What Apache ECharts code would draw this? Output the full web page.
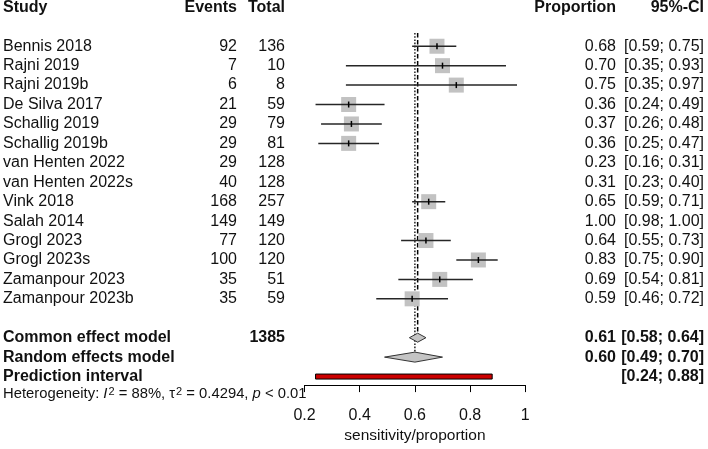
<!DOCTYPE html>
<html><head><meta charset="utf-8">
<script src="https://cdn.jsdelivr.net/npm/echarts@6/dist/echarts.min.js"></script>
<style>html,body{margin:0;padding:0;background:#fff}#c{width:708px;height:449px}</style>
</head><body><div id="c"></div>
<script>
// ---------- data ----------
const studies = ["Bennis 2018","Rajni 2019","Rajni 2019b","De Silva 2017","Schallig 2019","Schallig 2019b",
  "van Henten 2022","van Henten 2022s","Vink 2018","Salah 2014","Grogl 2023","Grogl 2023s","Zamanpour 2023","Zamanpour 2023b"];
const events = [92,7,6,21,29,29,29,40,168,149,77,100,35,35];
const totals = [136,10,8,59,79,81,128,128,257,149,120,120,51,59];
const proportion = [0.68,0.70,0.75,0.36,0.37,0.36,0.23,0.31,0.65,1.00,0.64,0.83,0.69,0.59];
const ciLower = [0.59,0.35,0.35,0.24,0.26,0.25,0.16,0.23,0.59,0.98,0.55,0.75,0.54,0.46];
const ciUpper = [0.75,0.93,0.97,0.49,0.48,0.47,0.31,0.40,0.71,1.00,0.73,0.90,0.81,0.72];
const notPlotted = ["van Henten 2022","van Henten 2022s","Salah 2014"];
const commonEffect = [0.61,0.58,0.64];
const randomEffects = [0.60,0.49,0.70];
const predictionInterval = [0.24,0.88];
const totalN = 1385;
const heterogeneity = {I2:"88%", tau2:"0.4294", p:"< 0.01"};
const xTicks = [0.2,0.4,0.6,0.8,1];
const xTitle = "sensitivity/proportion";
const headers = ["Study","Events","Total","Proportion","95%-CI"];

// ---------- layout ----------
const FONT = "'Liberation Sans', Arial, Helvetica, sans-serif";
const COL = {study:3, events:237, total:285, prop:616, ci:704};
const ROW_HEADER = -0.97, ROW_COMMON = 16, ROW_RANDOM = 17, ROW_PRED = 18, ROW_HET = 18.9;
const f2 = v => v.toFixed(2);
const ciTxt = (a,b) => "[" + f2(a) + "; " + f2(b) + "]";

const cells = [];
function cell(row, x, align, text, bold, size, rich){ cells.push({row,x,align,text,bold,size,rich}); }
cell(ROW_HEADER, COL.study, 'left', headers[0], true, 16);
cell(ROW_HEADER, COL.events, 'right', headers[1], true, 16);
cell(ROW_HEADER, COL.total, 'right', headers[2], true, 16);
cell(ROW_HEADER, COL.prop, 'right', headers[3], true, 16);
cell(ROW_HEADER, COL.ci, 'right', headers[4], true, 16);
studies.forEach((s,i)=>{
  const r = i+1;
  cell(r, COL.study, 'left', s, false, 16);
  cell(r, COL.events, 'right', String(events[i]), false, 16);
  cell(r, COL.total, 'right', String(totals[i]), false, 16);
  cell(r, COL.prop, 'right', f2(proportion[i]), false, 16);
  cell(r, COL.ci, 'right', ciTxt(ciLower[i], ciUpper[i]), false, 16);
});
cell(ROW_COMMON, COL.study, 'left', "Common effect model", true, 16);
cell(ROW_COMMON, COL.total, 'right', String(totalN), true, 16);
cell(ROW_COMMON, COL.prop, 'right', f2(commonEffect[0]), true, 16);
cell(ROW_COMMON, COL.ci, 'right', ciTxt(commonEffect[1], commonEffect[2]), true, 16);
cell(ROW_RANDOM, COL.study, 'left', "Random effects model", true, 16);
cell(ROW_RANDOM, COL.prop, 'right', f2(randomEffects[0]), true, 16);
cell(ROW_RANDOM, COL.ci, 'right', ciTxt(randomEffects[1], randomEffects[2]), true, 16);
cell(ROW_PRED, COL.study, 'left', "Prediction interval", true, 16);
cell(ROW_PRED, COL.ci, 'right', ciTxt(predictionInterval[0], predictionInterval[1]), true, 16);
cell(ROW_HET, COL.study, 'left',
  "Heterogeneity: {it|I}{sup|2} = " + heterogeneity.I2 + ", τ{sup|2} = " + heterogeneity.tau2 + ", {it|p} " + heterogeneity.p,
  false, 14.8, true);

const plotted = [];
studies.forEach((s,i)=>{ if(!notPlotted.includes(s)) plotted.push([proportion[i], i+1, ciLower[i], ciUpper[i]]); });

const chart = echarts.init(document.getElementById('c'), null, {renderer:'canvas'});
const TXT = '#111';

chart.setOption({
  animation:false,
  backgroundColor:'#fff',
  grid:{left:304.5, right:182.7, top:26.8, bottom:59, containLabel:false},
  xAxis:{type:'value', min:0.2, max:1, interval:0.2, position:'bottom',
    axisLine:{show:true, onZero:false, lineStyle:{color:'#000', width:1}},
    axisTick:{show:true, inside:false, length:7, lineStyle:{color:'#000', width:1}},
    axisLabel:{fontFamily:FONT, fontSize:16, color:TXT, margin:22,
      formatter: v => { const t = xTicks.find(k => Math.abs(k-v)<1e-9); return t===undefined ? '' : String(t); }},
    splitLine:{show:false},
    name:xTitle, nameLocation:'middle', nameGap:41,
    nameTextStyle:{fontFamily:FONT, fontSize:15.5, color:TXT}},
  yAxis:{type:'value', min:0, max:18.44, inverse:true, show:false},
  series:[
    { // reference lines, diamonds, prediction interval
      type:'custom', clip:false, silent:true, z:2,
      data:[[commonEffect[0], ROW_COMMON]],
      renderItem:(params, api)=>{
        const c = commonEffect, r = randomEffects, pi = predictionInterval;
        const top = api.coord([c[0], 0.32])[1];
        const pc = api.coord([c[0], ROW_COMMON]);
        const pr = api.coord([r[0], ROW_RANDOM]);
        const cl = api.coord([c[1], ROW_COMMON])[0], cr = api.coord([c[2], ROW_COMMON])[0];
        const rl = api.coord([r[1], ROW_RANDOM])[0], rr = api.coord([r[2], ROW_RANDOM])[0];
        const pl = api.coord([pi[0], ROW_PRED]), pR = api.coord([pi[1], ROW_PRED]);
        const hc = 4.5, hr = 5;
        return {type:'group', children:[
          {type:'line', shape:{x1:pc[0], y1:top, x2:pc[0], y2:pc[1]-hc}, style:{stroke:'#000', lineWidth:1.5, lineDash:[4.5,2.5]}},
          {type:'line', shape:{x1:pr[0], y1:top, x2:pr[0], y2:pr[1]-hr}, style:{stroke:'#000', lineWidth:1.3, lineDash:[1.6,1.6]}},
          {type:'polygon', shape:{points:[[cl,pc[1]],[pc[0],pc[1]-hc],[cr,pc[1]],[pc[0],pc[1]+hc]]},
            style:{fill:'#c4c4c4', stroke:'#333', lineWidth:1}},
          {type:'polygon', shape:{points:[[rl,pr[1]],[pr[0],pr[1]-hr],[rr,pr[1]],[pr[0],pr[1]+hr]]},
            style:{fill:'#c4c4c4', stroke:'#333', lineWidth:1}},
          {type:'rect', shape:{x:pl[0], y:pl[1]-2.5, width:pR[0]-pl[0], height:5},
            style:{fill:'#cc0000', stroke:'#000', lineWidth:1}}
        ]};
      }
    },
    { // study squares + CIs
      type:'custom', clip:false, silent:true, z:3,
      data:plotted,
      renderItem:(params, api)=>{
        const row = api.value(1);
        const p = api.coord([api.value(0), row]);
        const lo = api.coord([api.value(2), row]);
        const hi = api.coord([api.value(3), row]);
        const s = 15;
        return {type:'group', children:[
          {type:'rect', shape:{x:p[0]-s/2, y:p[1]-s/2, width:s, height:s}, style:{fill:'#c2c2c2'}},
          {type:'line', shape:{x1:lo[0], y1:p[1], x2:hi[0], y2:p[1]}, style:{stroke:'#262626', lineWidth:1.5}},
          {type:'line', shape:{x1:p[0], y1:p[1]-3, x2:p[0], y2:p[1]+3}, style:{stroke:'#000', lineWidth:1.5}}
        ]};
      }
    },
    { // table text
      type:'custom', clip:false, silent:true, z:4,
      data:cells.map(c=>[0.2, c.row]),
      renderItem:(params, api)=>{
        const c = cells[params.dataIndex];
        const y = api.coord([0.2, c.row])[1];
        const style = {text:c.text, x:0, y:0, fill:TXT, fontFamily:FONT, fontSize:c.size,
          fontWeight:c.bold?'bold':'normal', align:c.align, verticalAlign:'middle'};
        if(c.rich){
          style.rich = {
            it:{fontStyle:'italic', fontFamily:FONT, fontSize:c.size, fill:TXT},
            sup:{fontFamily:FONT, fontSize:11, fill:TXT, verticalAlign:'top', padding:[0,0,0,1]}
          };
        }
        return {type:'text', x:c.x, y:y, style:style};
      }
    }
  ]
});
</script>
</body></html>
